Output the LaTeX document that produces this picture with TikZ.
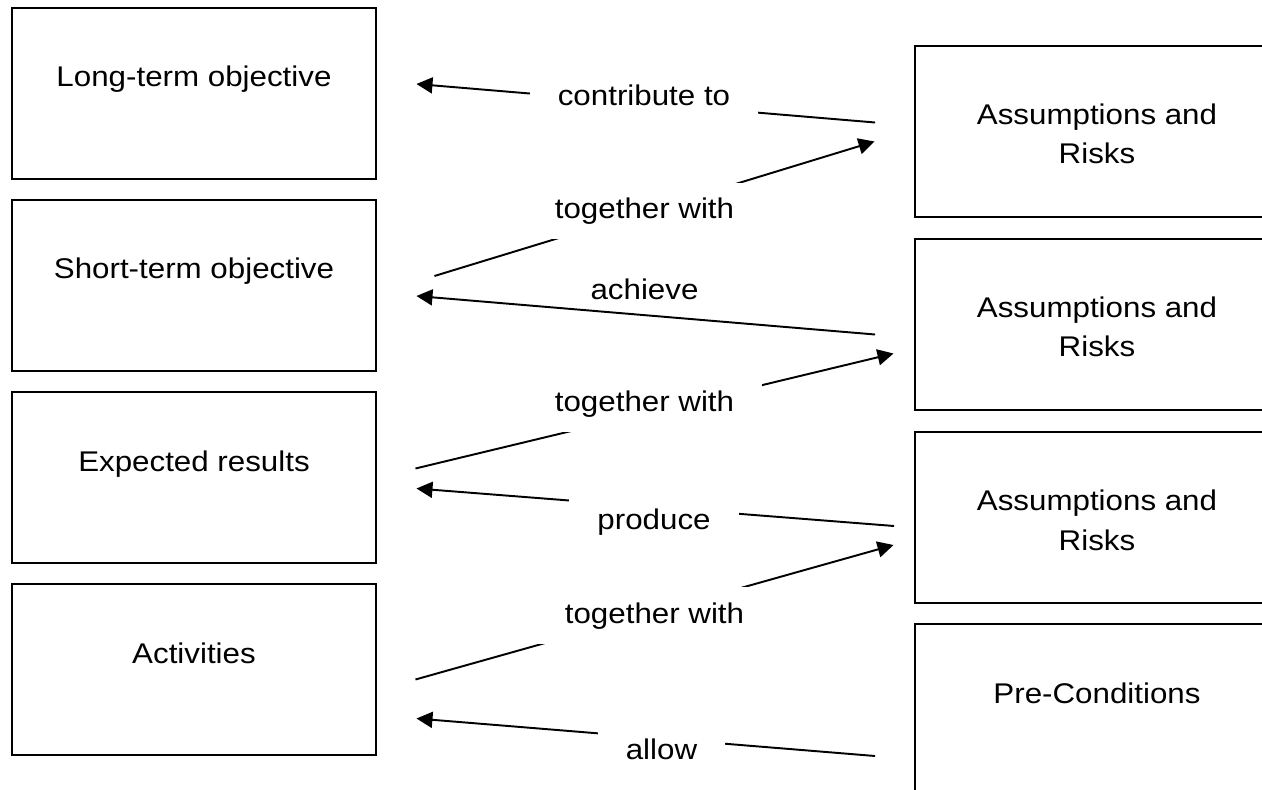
\documentclass[tikz,border=0pt]{standalone}
\usepackage{fontspec}
\setmainfont{Liberation Sans}[FakeStretch=1.1]
\usetikzlibrary{arrows.meta}

\begin{document}
\begin{tikzpicture}[
    font=\fontsize{16.2}{22.2}\selectfont,
    >={Triangle[length=3.2mm, width=3.2mm]},
    lvlbox/.style={draw=black, line width=1.1pt, minimum width=7.28cm, inner sep=0pt,
                   text height=1.58cm, text depth=1.84cm, align=center},
    % two lines: the last baseline sits one line lower
    riskbox/.style={lvlbox, text height=2.36cm, text depth=1.06cm},
    link/.style={->, line width=1.1pt},
    linklbl/.style={fill=white, anchor=base, inner xsep=0.56cm, inner ysep=0.3cm},
  ]

  \path[use as bounding box, fill=white] (0,0) rectangle (25.24,-15.8);
  \clip (0,0) rectangle (25.24,-15.8);

  % ---------- levels (left column) ----------
  \node[lvlbox] (goal)       at (3.88,-1.87)  {Long-term objective};
  \node[lvlbox] (purpose)    at (3.88,-5.71)  {Short-term objective};
  \node[lvlbox] (results)    at (3.88,-9.55)  {Expected results};
  \node[lvlbox] (activities) at (3.88,-13.39) {Activities};

  % ---------- assumptions (right column, cut by the page edge) ----------
  \node[riskbox] (risk1)  at (21.94,-2.63)  {Assumptions and\\Risks};
  \node[riskbox] (risk2)  at (21.94,-6.49)  {Assumptions and\\Risks};
  \node[riskbox] (risk3)  at (21.94,-10.35) {Assumptions and\\Risks};
  \node[lvlbox] (precond) at (21.94,-14.19) {Pre-Conditions};

  % ---------- links ----------
  \draw[link] ([shift={(-0.78,0.18)}]risk1.west)    -- ([shift={(0.79,0.19)}]goal.east);
  \draw[link] ([shift={(1.15,0.19)}]purpose.east)   -- ([shift={(-0.79,-0.2)}]risk1.west);
  \draw[link] ([shift={(-0.78,-0.2)}]risk2.west)    -- ([shift={(0.79,-0.21)}]purpose.east);
  \draw[link] ([shift={(0.77,0.18)}]results.east)   -- ([shift={(-0.41,-0.58)}]risk2.west);
  \draw[link] ([shift={(-0.4,-0.17)}]risk3.west)    -- ([shift={(0.79,-0.22)}]results.east);
  \draw[link] ([shift={(0.77,-0.2)}]activities.east) -- ([shift={(-0.41,-0.55)}]risk3.west);
  \draw[link] ([shift={(-0.78,-0.93)}]precond.west) -- ([shift={(0.79,-0.98)}]activities.east);

  % labels sit on top of the links and hide a piece of them
  \node[linklbl] (lcontrib)  at (12.88,-2.12)  {contribute to};
  \node[linklbl] (ltogether1) at (12.89,-4.37) {together with};
  \node[linklbl, fill=none] (lachieve) at (12.89,-6.0) {achieve};
  \node[linklbl] (ltogether2) at (12.89,-8.22) {together with};
  \node[linklbl] (lproduce)  at (13.08,-10.58) {produce};
  \node[linklbl] (ltogether3) at (13.09,-12.46) {together with};
  \node[linklbl] (lallow)    at (13.23,-15.18) {allow};

\end{tikzpicture}
\end{document}
